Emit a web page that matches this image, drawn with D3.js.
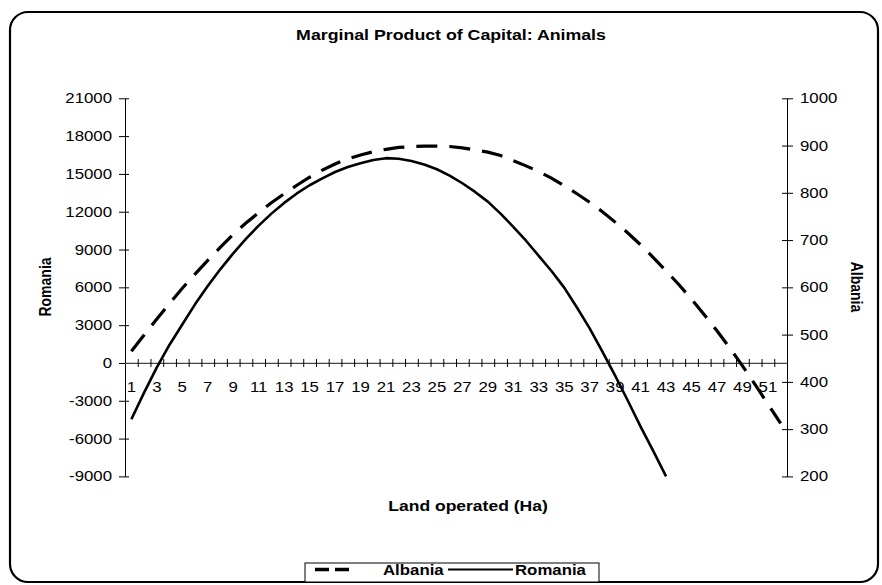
<!DOCTYPE html>
<html>
<head>
<meta charset="UTF-8">
<title>Marginal Product of Capital: Animals</title>
<script src="https://d3js.org/d3.v7.min.js"></script>
<style>
  body { margin: 0; background: #fff; }
  svg { display: block; font-family: Arial, "Liberation Sans", sans-serif; }
</style>
</head>
<body>
<svg id="chart" width="882" height="585"></svg>
<script>
// data
const landHa = [1,2,3,4,5,6,7,8,9,10,11,12,13,14,15,16,17,18,19,20,21,22,23,24,25,26,
  27,28,29,30,31,32,33,34,35,36,37,38,39,40,41,42,43,44,45,46,47,48,49,50,51,52];
const romania = [-4470,-2350,-350,1450,3050,4650,6100,7450,8700,9850,10900,11850,12700,13450,
  14100,14650,15150,15550,15850,16100,16250,16200,16030,15750,15370,14870,14260,13570,12800,
  11850,10800,9700,8500,7300,5980,4400,2750,900,-1000,-3000,-5050,-7000,-9000];
const albania = [465,499,533,566,598,628,657,685,712,736,758,779,798,816,833,848,861,872,880,
  887,892,896,898,899,899,898,895,891,886,879,868,857,845,831,815,798,780,760,738,715,690,663,
  635,606,575,542,508,472,434,394,353,312];
const leftTicks = [-9000,-6000,-3000,0,3000,6000,9000,12000,15000,18000,21000];
const rightTicks = [200,300,400,500,600,700,800,900,1000];
const xLabels = [1,3,5,7,9,11,13,15,17,19,21,23,25,27,29,31,33,35,37,39,41,43,45,47,49,51];

const SX = 1.2; // the source picture is stretched sideways
const font = "Arial, 'Liberation Sans', sans-serif";
const plotL = 125, plotR = 787, plotT = 98.3, plotB = 476.4;
const plain = d => String(d);

const svg = d3.select("#chart");

function stretch(sel) {
  sel.each(function() {
    const t = d3.select(this);
    const x = +t.attr("x") || 0, y = +t.attr("y") || 0;
    t.attr("x", 0).attr("y", 0).attr("transform", `translate(${x},${y}) scale(${SX},1)`);
  });
}

function label(x, y, txt, size, rot, anchor) {
  return svg.append("text")
    .attr("transform", `translate(${x},${y}) scale(${SX},1)` + (rot ? ` rotate(${rot})` : ""))
    .attr("text-anchor", anchor || "middle")
    .attr("dy", "0.35em")
    .attr("font-size", size)
    .attr("font-weight", "bold")
    .text(txt);
}

// outer frame
svg.append("rect")
  .attr("x", 10).attr("y", 12).attr("width", 868).attr("height", 570)
  .attr("rx", 18).attr("fill", "#fff").attr("stroke", "#000").attr("stroke-width", 2.2);

const x = d3.scaleBand().domain(landHa).range([plotL, plotR]);
const xb = d3.scaleLinear().domain([0, landHa.length]).range([plotL, plotR]);
const yL = d3.scaleLinear().domain([-9000, 21000]).range([plotB, plotT]);
const yR = d3.scaleLinear().domain([200, 1000]).range([plotB, plotT]);
const cx = d => x(d) + x.bandwidth() / 2;

// left axis
const gL = svg.append("g").attr("transform", `translate(${plotL},0)`)
  .call(d3.axisLeft(yL).tickValues(leftTicks).tickFormat(plain)
    .tickSize(6).tickPadding(7).tickSizeOuter(0));
gL.selectAll(".tick line").attr("x1", 4);
gL.selectAll("text").attr("font-size", 14).attr("font-family", font).attr("fill", "#000");
stretch(gL.selectAll("text"));

// right axis
const gR = svg.append("g").attr("transform", `translate(${plotR},0)`)
  .call(d3.axisRight(yR).tickValues(rightTicks).tickFormat(plain)
    .tickSize(6).tickPadding(7).tickSizeOuter(0));
gR.selectAll(".tick line").attr("x1", -5);
gR.selectAll("text").attr("font-size", 14).attr("font-family", font).attr("fill", "#000");
stretch(gR.selectAll("text"));

// category axis at zero
const y0 = yL(0);
const gX = svg.append("g").attr("transform", `translate(0,${y0})`)
  .call(d3.axisBottom(xb).tickValues(landHa).tickSize(4).tickFormat("").tickSizeOuter(0));
gX.selectAll(".tick line").attr("y1", -4);
gX.select(".domain").attr("stroke", "#444").attr("stroke-width", 1.3);

const gXl = svg.append("g").attr("transform", `translate(0,${y0})`)
  .call(d3.axisBottom(x).tickValues(xLabels).tickSize(0).tickPadding(19));
gXl.select(".domain").remove();
gXl.selectAll("text").attr("font-size", 14).attr("font-family", font).attr("fill", "#000");
stretch(gXl.selectAll("text"));

// lines
const lineL = d3.line().x((d, i) => cx(landHa[i])).y(d => yL(d));
const lineR = d3.line().x((d, i) => cx(landHa[i])).y(d => yR(d));

svg.append("path").datum(albania)
  .attr("d", lineR).attr("fill", "none").attr("stroke", "#000")
  .attr("stroke-width", 3.2).attr("stroke-dasharray", "21,12");

svg.append("path").datum(romania)
  .attr("d", lineL).attr("fill", "none").attr("stroke", "#000")
  .attr("stroke-width", 2.6).attr("stroke-linejoin", "round");

// titles
label(451, 35, "Marginal Product of Capital: Animals", 14.8);
label(468, 506, "Land operated (Ha)", 14.6);
label(45, 287, "Romania", 14, -90);
label(857, 287, "Albania", 14, 90);

// legend
svg.append("rect")
  .attr("x", 305).attr("y", 563).attr("width", 294).attr("height", 19)
  .attr("fill", "#fff").attr("stroke", "#000").attr("stroke-width", 1);
svg.append("line").attr("x1", 315).attr("x2", 350).attr("y1", 569.5).attr("y2", 569.5)
  .attr("stroke", "#000").attr("stroke-width", 3.5).attr("stroke-dasharray", "14,6");
label(383, 570, "Albania", 14, 0, "start");
svg.append("line").attr("x1", 448).attr("x2", 513).attr("y1", 569.5).attr("y2", 569.5)
  .attr("stroke", "#000").attr("stroke-width", 1.8);
label(515, 570, "Romania", 14, 0, "start");
</script>
</body>
</html>
